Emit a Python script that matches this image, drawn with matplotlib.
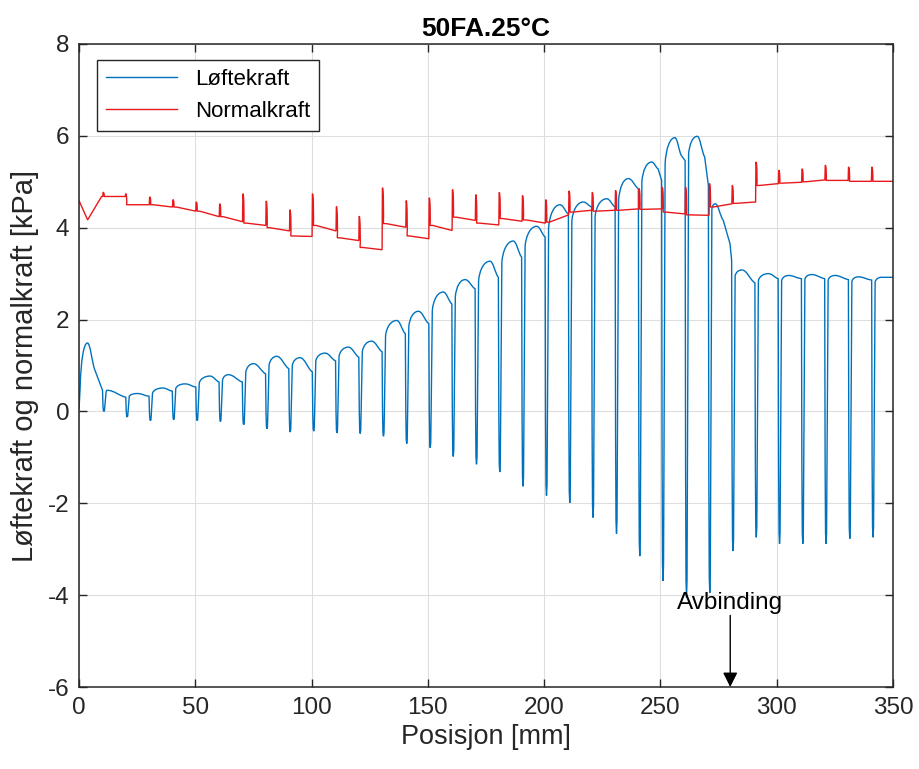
import matplotlib.pyplot as plt
from matplotlib.path import Path
from matplotlib.patches import PathPatch
from matplotlib.ticker import MultipleLocator

plt.rcParams['font.family'] = ['Liberation Sans', 'DejaVu Sans']
plt.rcParams['axes.unicode_minus'] = False

# Løftekraft (blue): start of the run, then one cycle per 10 mm
lift_start_x = [0.0, 0.5, 3.6, 6.9]
lift_start_y = [0.05, 0.55, 1.49, 0.89]
dip_pos = [10.5, 20.5, 30.5, 40.5, 50.6, 60.6, 70.6, 80.6, 90.6, 100.7,
           110.7, 120.7, 130.7, 140.7, 150.8, 160.7, 170.7, 180.7, 190.7, 200.8,
           210.8, 220.8, 230.9, 240.9, 250.9, 261.0, 271.0, 281.0, 291.0, 301.0,
           311.0, 321.0, 331.2, 341.2]
lift_min = [0.0, -0.12, -0.20, -0.18, -0.20, -0.22, -0.29, -0.38, -0.45, -0.43,
            -0.47, -0.48, -0.54, -0.70, -0.79, -0.98, -1.15, -1.32, -1.63, -1.83,
            -1.99, -2.31, -2.66, -3.15, -3.69, -4.05, -3.95, -3.04, -2.74, -2.88,
            -2.88, -2.88, -2.77, -2.74]
lift_rise = [0.40, 0.33, 0.40, 0.50, 0.62, 0.68, 0.85, 1.00, 1.00, 1.10,
             1.20, 1.30, 1.65, 1.85, 2.20, 2.50, 2.85, 3.25, 3.60, 4.00,
             4.15, 4.25, 4.60, 5.00, 5.40, 5.60, 4.40, 2.95, 2.85, 2.85,
             2.88, 2.86, 2.83, 2.82]
lift_peak_x = [12.0, 25.0, 36.0, 45.6, 56.3, 64.2, 75.0, 85.0, 95.0, 105.8,
               115.8, 125.8, 136.6, 145.9, 156.6, 166.0, 176.7, 186.7, 196.8, 206.8,
               216.8, 226.9, 236.2, 246.2, 256.2, 265.8, 273.5, 285.0, 296.4, 305.0,
               315.0, 325.0, 335.0, 345.0]
lift_peak = [0.46, 0.39, 0.51, 0.60, 0.77, 0.80, 1.04, 1.20, 1.17, 1.27,
             1.40, 1.53, 1.98, 2.18, 2.60, 2.87, 3.27, 3.71, 4.03, 4.50,
             4.56, 4.63, 5.07, 5.43, 5.96, 5.99, 4.52, 3.08, 3.00, 2.96,
             2.98, 2.96, 2.93, 2.92]
lift_end = [0.31, 0.33, 0.44, 0.53, 0.64, 0.64, 0.82, 0.93, 0.86, 1.10,
            1.18, 1.30, 1.69, 1.91, 2.34, 2.67, 2.92, 3.36, 3.80, 4.30,
            4.45, 4.45, 4.85, 5.03, 5.46, 4.92, 3.29, 2.80, 2.89, 2.89,
            2.89, 2.87, 2.86, 2.92]
# shoulders read on the decays of cycles 24-27
lift_extra_x = [249.0, 259.0, 269.0, 277.0, 279.9]
lift_extra_y = [5.28, 5.57, 5.54, 4.16, 3.65]

# Normalkraft (red)
red_start_x = [0.0, 3.7, 9.7]
red_start_y = [4.59, 4.17, 4.68]
red_pos = [10.3, 20.0, 30.3, 40.3, 50.3, 60.4, 70.4, 80.4, 90.6, 100.3,
           110.6, 120.4, 130.4, 140.6, 150.5, 160.5, 170.5, 180.6, 190.6, 200.6,
           210.6, 220.6, 230.6, 240.7, 250.7, 260.7, 271.0, 280.8, 291.0, 300.8,
           310.8, 320.8, 330.8, 340.8]
red_top = [4.77, 4.74, 4.67, 4.61, 4.56, 4.52, 4.74, 4.58, 4.39, 4.74,
           4.46, 4.25, 4.87, 4.59, 4.65, 4.83, 4.72, 4.77, 4.70, 4.61,
           4.80, 4.77, 4.81, 4.85, 4.88, 4.88, 4.96, 4.92, 5.43, 5.25,
           5.28, 5.36, 5.32, 5.32]
red_after = [4.68, 4.50, 4.50, 4.45, 4.36, 4.24, 4.10, 4.00, 3.82, 4.05,
             3.78, 3.57, 4.09, 3.82, 4.05, 4.23, 4.10, 4.20, 4.17, 4.12,
             4.34, 4.36, 4.38, 4.40, 4.34, 4.28, 4.45, 4.53, 4.92, 4.97,
             5.00, 5.03, 5.01, 5.01]
red_end = [4.68, 4.50, 4.45, 4.36, 4.24, 4.13, 4.05, 3.93, 3.81, 3.93,
           3.72, 3.52, 4.01, 3.76, 3.94, 4.16, 4.06, 4.14, 4.10, 4.28,
           4.38, 4.38, 4.41, 4.41, 4.30, 4.27, 4.52, 4.56, 4.96, 4.99,
           5.04, 5.03, 5.01, 5.01]


def hump(verts, codes, a, p, rest):
    # rounded rise a -> peak p, then rounded fall to rest[0], straight after that
    verts += [(a[0] + 0.1 * (p[0] - a[0]), a[1] + 0.6 * (p[1] - a[1])),
              (p[0] - 0.5 * (p[0] - a[0]), p[1]), p]
    codes += [Path.CURVE4] * 3
    e = rest[0]
    verts += [(p[0] + 0.4 * (e[0] - p[0]), p[1]),
              (e[0] - 0.4 * (e[0] - p[0]), e[1] + 0.25 * (p[1] - e[1])), e]
    codes += [Path.CURVE4] * 3
    for q in rest[1:]:
        verts.append(q)
        codes.append(Path.LINETO)


def dip(verts, codes, d, top, low, rise):
    # narrow U: down on the left, blunt bottom, up on the right
    depth = min(top, rise) - low
    verts += [(d - 0.2, low + 0.3 * depth), (d - 0.02, low + 0.04 * depth),
              (d + 0.2, low), (d + 0.42, low + 0.04 * depth),
              (d + 0.6, low + 0.3 * depth), (d + 1.1, rise)]
    codes += [Path.LINETO] * 6


# blue path
bv = [(lift_start_x[0], lift_start_y[0]), (lift_start_x[1], lift_start_y[1])]
bc = [Path.MOVETO, Path.LINETO]
hump(bv, bc, bv[-1], (lift_start_x[2], lift_start_y[2]),
     [(lift_start_x[3], lift_start_y[3]), (dip_pos[0] - 0.4, 0.46)])
for i, d in enumerate(dip_pos):
    dip(bv, bc, d, bv[-1][1], lift_min[i], lift_rise[i])
    end_x = dip_pos[i + 1] - 0.4 if i + 1 < len(dip_pos) else 350.0
    px = lift_peak_x[i]
    rest = [(ex, ey) for ex, ey in zip(lift_extra_x, lift_extra_y) if px < ex < end_x]
    rest.append((end_x, lift_end[i]))
    hump(bv, bc, bv[-1], (px, lift_peak[i]), rest)

# red path
rv = [(x, y) for x, y in zip(red_start_x, red_start_y)]
rc = [Path.MOVETO] + [Path.LINETO] * (len(rv) - 1)
for i, s in enumerate(red_pos):
    t = red_top[i]
    a = red_after[i]
    rv += [(s - 0.1, rv[-1][1]), (s + 0.05, t),
           (s + 0.55, t), (s + 0.6, a + 0.15 * (t - a)), (s + 0.45, a),
           (s + 0.8, a), (s + 1.6, a)]
    rc += [Path.LINETO, Path.LINETO,
           Path.CURVE4, Path.CURVE4, Path.CURVE4,
           Path.CURVE3, Path.CURVE3]
    end_x = red_pos[i + 1] - 0.1 if i + 1 < len(red_pos) else 350.0
    rv.append((end_x, red_end[i]))
    rc.append(Path.LINETO)

blue = '#0072BD'
red = '#E8191C'

fig, ax = plt.subplots(figsize=(9.2, 7.69), dpi=100)
fig.subplots_adjust(left=0.0859, right=0.9707, bottom=0.1066, top=0.9428)

ax.add_patch(PathPatch(Path(bv, bc), facecolor='none', edgecolor=blue, lw=1.0))
ax.add_patch(PathPatch(Path(rv, rc), facecolor='none', edgecolor=red, lw=1.0))
ax.plot([], [], color=blue, lw=1.0, label='Løftekraft')
ax.plot([], [], color=red, lw=1.0, label='Normalkraft')

ax.set_xlim(0, 350)
ax.set_ylim(-6, 8)
ax.xaxis.set_major_locator(MultipleLocator(50))
ax.yaxis.set_major_locator(MultipleLocator(2))
ax.grid(True, color='#dedede', lw=0.8)
ax.set_axisbelow(True)
ax.tick_params(direction='in', top=True, right=True, length=6, width=1,
               labelsize=17.5, colors='#262626', pad=7)
for sp in ax.spines.values():
    sp.set_color('#262626')
    sp.set_linewidth(1.1)

ax.set_xlabel('Posisjon [mm]', fontsize=19.5, color='#262626')
ax.set_ylabel('Løftekraft og normalkraft [kPa]', fontsize=21, color='#262626',
              labelpad=6)
ax.set_title('50FA.25°C', fontsize=19, fontweight='bold', color='#000000')

ax.legend(loc='upper left', bbox_to_anchor=(0.022, 0.975), borderaxespad=0,
          fontsize=16, handlelength=3.2, fancybox=False, edgecolor='#262626',
          framealpha=1)

ax.text(280, -4.17, 'Avbinding', ha='center', va='center', fontsize=17.5)
ax.annotate('', xy=(280, -6.0), xytext=(280, -4.44),
            arrowprops=dict(arrowstyle='-|>', color='black', lw=1.0,
                            mutation_scale=22, shrinkA=0, shrinkB=0))

fig.savefig('out.png', dpi=100)
